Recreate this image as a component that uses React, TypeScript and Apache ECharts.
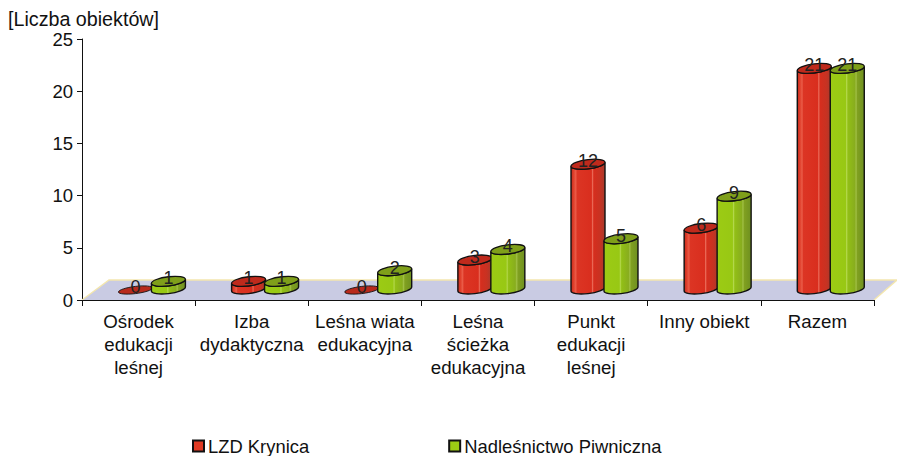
import React, { useEffect, useRef } from "react";
import * as echarts from "echarts";

const categories = [
  "Ośrodek\nedukacji\nleśnej",
  "Izba\ndydaktyczna",
  "Leśna wiata\nedukacyjna",
  "Leśna\nścieżka\nedukacyjna",
  "Punkt\nedukacji\nleśnej",
  "Inny obiekt",
  "Razem",
];
const seriesNames = ["LZD Krynica", "Nadleśnictwo Piwniczna"];
const krynica = [0, 1, 0, 3, 12, 6, 21];
const piwniczna = [1, 1, 2, 4, 5, 9, 21];
const yTicks = { min: 0, max: 25, interval: 5 };
const axisTitle = "[Liczba obiektów]";

const FONT = "Liberation Sans, Arial, sans-serif";

const bodyGradient = (stops: [number, string][]) =>
  new echarts.graphic.LinearGradient(
    0, 0, 1, 0,
    stops.map(([offset, color]) => ({ offset, color })),
  );

const redStops: [number, string][] = [
  [0, "#c42a1c"], [0.08, "#e0402c"], [0.14, "#ea5c48"], [0.18, "#dc3524"],
  [0.6, "#d92e1e"], [0.63, "#ea6a58"], [0.67, "#d62e1e"], [0.85, "#c83222"], [1, "#a83a2c"],
];
const greenStops: [number, string][] = [
  [0, "#9ccb14"], [0.45, "#98c814"], [0.48, "#b4d84c"], [0.52, "#92bf16"],
  [0.72, "#88ad1e"], [0.76, "#a0bf44"], [0.8, "#80a020"], [1, "#6f9020"],
];

const RX = 17;
const RY = 4.6;
const TILT = 2;
const BASE_SHIFT = 11;
const TOP_SHIFT = 8;
const DEPTH_SCALE = 1.02;
const K = 0.5523;

// Half of a sheared ellipse drawn as two cubic curves; the pen is already at the start point.
const halfEllipse = (cx: number, cy: number, ry: number, fromLeft: boolean, below: boolean) => {
  const s = fromLeft ? -1 : 1;
  const b = below ? 1 : -1;
  const ax = RX * s;
  const ay = -TILT * s;
  const by = ry * b;
  const p = (u: number, v: number) => `${cx + ax * u} ${cy + ay * u + by * v}`;
  return `C${p(1, K)} ${p(K, 1)} ${p(0, 1)}C${p(-K, 1)} ${p(-1, K)} ${p(-1, 0)}`;
};

const cylinder = (side: -1 | 1, stops: [number, string][], topColor: string, zeroColor: string) =>
  (_params: any, api: any) => {
    const idx = api.value(0);
    const val = api.value(1);
    const band = api.size([1, 0])[0];
    const top = api.coord([idx, val]);
    const base = api.coord([idx, 0]);
    const cx = base[0] + band * 0.118 + side * RX * 0.97;
    const by = base[1] - BASE_SHIFT;
    const ty = val > 0
      ? base[1] - TOP_SHIFT - (base[1] - top[1]) * DEPTH_SCALE
      : by + 1;
    const l = cx - RX;
    const r = cx + RX;
    const children: any[] = [];
    if (val > 0) {
      children.push({
        type: "path",
        shape: {
          pathData:
            `M${l} ${ty + TILT}L${l} ${by + TILT}` +
            halfEllipse(cx, by, RY, true, true) +
            `L${r} ${ty - TILT}` +
            halfEllipse(cx, ty, RY, false, true) +
            "Z",
        },
        style: { fill: bodyGradient(stops), stroke: "#111", lineWidth: 1.4 },
      });
    }
    const ry = val > 0 ? RY : 3.6;
    children.push({
      type: "path",
      shape: {
        pathData:
          `M${l} ${ty + TILT}` +
          halfEllipse(cx, ty, ry, true, false) +
          halfEllipse(cx, ty, ry, false, true) +
          "Z",
      },
      style: { fill: val > 0 ? topColor : zeroColor, stroke: "#111", lineWidth: val > 0 ? 1.3 : 0.9 },
    });
    children.push({
      type: "text",
      style: {
        x: cx,
        y: ty - 3,
        text: String(val),
        fill: "#222",
        font: `18px ${FONT}`,
        align: "center",
        verticalAlign: "middle",
      },
    });
    return { type: "group", children };
  };

const floor = (_params: any, api: any) => {
  const band = api.size([1, 0])[0];
  const first = api.coord([0, 0]);
  const x0 = first[0] - band / 2;
  const y0 = first[1];
  const x1 = x0 + band * categories.length;
  const dx = 27;
  const dy = 20;
  const dxR = 23;
  const points = [[x0, y0], [x0 + dx, y0 - dy], [x1 + dxR, y0 - dy], [x1, y0]];
  return {
    type: "group",
    children: [
      { type: "polygon", shape: { points }, style: { fill: "#c9cbe3" } },
      { type: "polyline", shape: { points }, style: { fill: "none", stroke: "#f3e6ae", lineWidth: 1.4 } },
    ],
  };
};

export default function App() {
  const ref = useRef<HTMLDivElement>(null);
  useEffect(() => {
    const chart = echarts.init(ref.current!, undefined, { renderer: "svg" });
    chart.setOption({
      animation: false,
      backgroundColor: "#fff",
      title: {
        text: axisTitle,
        left: 3,
        top: 4,
        textStyle: { fontFamily: FONT, fontSize: 19.7, lineHeight: 20, fontWeight: "normal", color: "#111" },
      },
      grid: { left: 82, right: 23, top: 39, height: 261, containLabel: false },
      legend: {
        data: seriesNames,
        left: 192,
        top: 437,
        icon: "rect",
        itemWidth: 11,
        itemHeight: 11,
        itemGap: 139,
        padding: 0,
        selectedMode: false,
        textStyle: { fontFamily: FONT, fontSize: 18.4, color: "#111", padding: [0, 0, 0, -1] },
      },
      xAxis: {
        type: "category",
        data: categories,
        z: 5,
        axisLine: { lineStyle: { color: "#111", width: 1 } },
        axisTick: { show: true, length: 6, alignWithLabel: false, lineStyle: { color: "#111" } },
        axisLabel: {
          interval: 0,
          margin: 10,
          fontFamily: FONT,
          fontSize: 18.7,
          lineHeight: 23,
          color: "#111",
        },
      },
      yAxis: {
        type: "value",
        min: yTicks.min,
        max: yTicks.max,
        interval: yTicks.interval,
        splitLine: { show: false },
        axisLine: { show: true, lineStyle: { color: "#111", width: 1 } },
        axisTick: { show: true, length: 5, lineStyle: { color: "#111" } },
        axisLabel: { margin: 9, fontFamily: FONT, fontSize: 18.5, color: "#111" },
      },
      series: [
        {
          type: "custom",
          name: "floor",
          silent: true,
          clip: false,
          z: 1,
          encode: { x: 0, y: 1 },
          data: [[0, 0]],
          renderItem: floor,
        },
        {
          type: "custom",
          name: seriesNames[0],
          clip: false,
          z: 2,
          encode: { x: 0, y: 1 },
          itemStyle: { color: "#e03a24", borderColor: "#111", borderWidth: 1.5 },
          data: krynica.map((v, i) => [i, v]),
          renderItem: cylinder(-1, redStops, "#bf2a1c", "#b82a1c"),
        },
        {
          type: "custom",
          name: seriesNames[1],
          clip: false,
          z: 3,
          encode: { x: 0, y: 1 },
          itemStyle: { color: "#9ccb14", borderColor: "#111", borderWidth: 1.5 },
          data: piwniczna.map((v, i) => [i, v]),
          renderItem: cylinder(1, greenStops, "#7f9f1a", "#7f9f1a"),
        },
      ],
    });
    return () => chart.dispose();
  }, []);
  return <div ref={ref} style={{ position: "absolute", left: 0, top: 0, width: 897, height: 456 }} />;
}
